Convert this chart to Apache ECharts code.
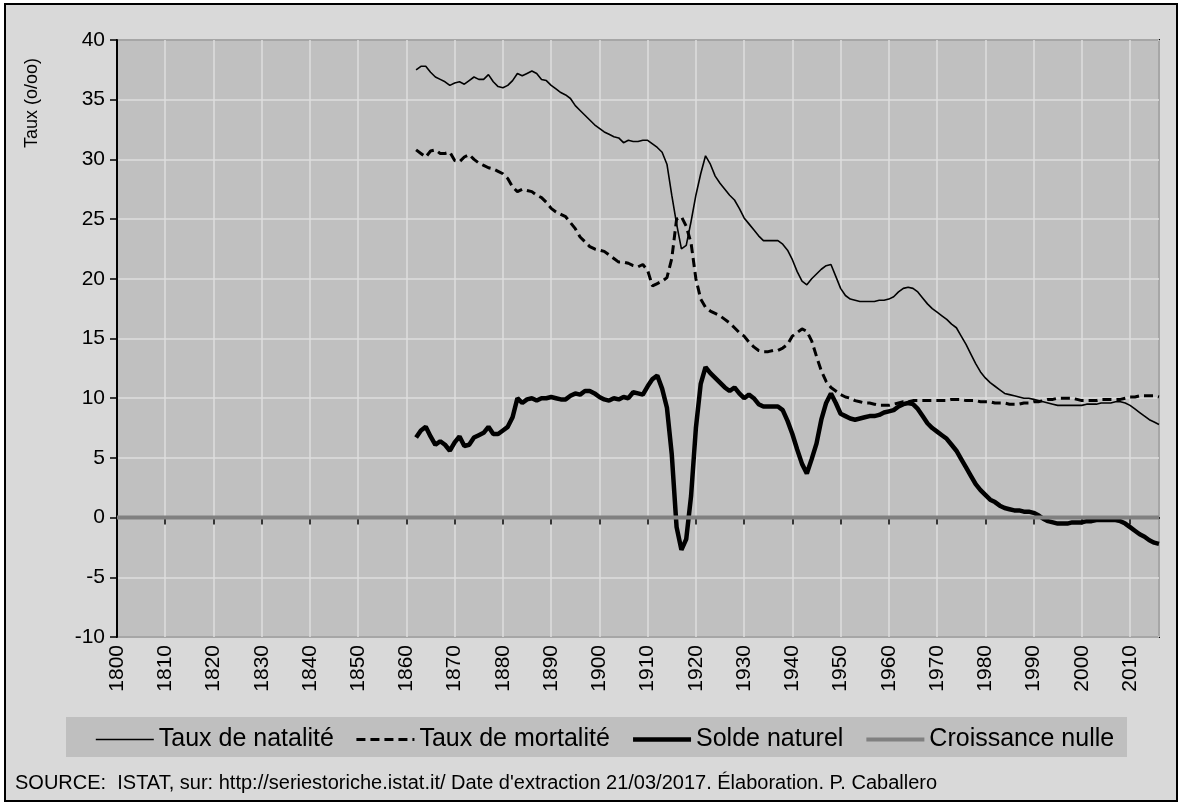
<!DOCTYPE html>
<html>
<head>
<meta charset="utf-8">
<title>Taux de natalité, mortalité et solde naturel</title>
<script src="https://cdn.jsdelivr.net/npm/echarts@6/dist/echarts.min.js"></script>
<style>
  body { margin: 0; background: #fff; }
  #main { width: 1181px; height: 803px; }
</style>
</head>
<body>
<div id="main"></div>
<script>
// données (‰), une valeur par année à partir de 1862
const firstYear = 1862

const natalite = [
  37.5, 37.8, 37.8, 37.3, 36.9, 36.7, 36.5, 36.2,
  36.4, 36.5, 36.3, 36.6, 36.9, 36.7, 36.7, 37.1, 36.5, 36.1,
  36.0, 36.2, 36.6, 37.2, 37.0, 37.2, 37.4, 37.2, 36.7, 36.6,
  36.2, 35.9, 35.6, 35.4, 35.1, 34.5, 34.1, 33.7, 33.3, 32.9,
  32.6, 32.3, 32.1, 31.9, 31.8, 31.4, 31.6, 31.5, 31.5, 31.6,
  31.6, 31.3, 31.0, 30.6, 29.6, 27.0, 24.6, 22.5, 22.8, 24.8,
  27.0, 28.8, 30.3, 29.6, 28.6, 28.0, 27.5, 27.0, 26.6, 25.9,
  25.1, 24.6, 24.1, 23.6, 23.2, 23.2, 23.2, 23.2, 22.9, 22.4,
  21.6, 20.6, 19.8, 19.5, 20.0, 20.4, 20.8, 21.1, 21.2, 20.2,
  19.2, 18.6, 18.3, 18.2, 18.1, 18.1, 18.1, 18.1, 18.2, 18.2,
  18.3, 18.5, 18.9, 19.2, 19.3, 19.2, 18.9, 18.4, 17.9, 17.5,
  17.2, 16.9, 16.6, 16.2, 15.9, 15.2, 14.5, 13.7, 12.9, 12.2,
  11.7, 11.3, 11.0, 10.7, 10.4, 10.3, 10.2, 10.1, 10.0, 10.0,
  9.9, 9.8, 9.7, 9.6, 9.5, 9.4, 9.4, 9.4, 9.4, 9.4,
  9.4, 9.5, 9.5, 9.5, 9.6, 9.6, 9.6, 9.7, 9.7, 9.6,
  9.4, 9.1, 8.8, 8.5, 8.2, 8.0, 7.8
]

const mortalite = [
  30.8, 30.5, 30.2, 30.7, 30.8, 30.5, 30.5, 30.6,
  29.9, 29.8, 30.2, 30.4, 30.0, 29.7, 29.5, 29.3, 29.2, 29.0,
  28.8, 28.4, 27.7, 27.3, 27.5, 27.4, 27.3, 27.0, 26.8, 26.4,
  25.9, 25.6, 25.4, 25.2, 24.7, 24.2, 23.5, 23.1, 22.7, 22.5,
  22.4, 22.3, 22.0, 21.7, 21.4, 21.4, 21.3, 21.1, 21.0, 21.2,
  20.7, 19.4, 19.6, 19.8, 20.1, 21.7, 25.0, 25.2, 24.4, 23.0,
  20.0, 18.3, 17.6, 17.3, 17.1, 16.9, 16.6, 16.3, 15.9, 15.5,
  15.2, 14.7, 14.3, 14.0, 13.9, 13.9, 14.0, 14.0, 14.2, 14.5,
  15.2, 15.5, 15.8, 15.6, 14.8, 13.5, 12.3, 11.4, 10.9, 10.6,
  10.3, 10.1, 10.0, 9.8, 9.7, 9.6, 9.6, 9.5, 9.4, 9.4,
  9.4, 9.5, 9.6, 9.7, 9.7, 9.8, 9.8, 9.8, 9.8, 9.8,
  9.8, 9.8, 9.8, 9.9, 9.9, 9.9, 9.8, 9.8, 9.8, 9.7,
  9.7, 9.7, 9.6, 9.6, 9.6, 9.5, 9.5, 9.5, 9.6, 9.6,
  9.7, 9.7, 9.8, 9.9, 9.9, 10.0, 10.0, 10.0, 10.0, 9.9,
  9.8, 9.8, 9.8, 9.8, 9.9, 9.9, 9.9, 9.9, 9.9, 10.0,
  10.1, 10.1, 10.2, 10.2, 10.2, 10.2, 10.1
]

const soldeNaturel = [
  6.7, 7.3, 7.6, 6.8, 6.1, 6.4, 6.1, 5.6,
  6.3, 6.8, 6.0, 6.1, 6.7, 6.9, 7.1, 7.6, 7.0, 7.0,
  7.3, 7.6, 8.4, 10.0, 9.6, 9.9, 10.0, 9.8, 10.0, 10.0,
  10.1, 10.0, 9.9, 9.9, 10.2, 10.4, 10.3, 10.6, 10.6, 10.4,
  10.1, 9.9, 9.8, 10.0, 9.9, 10.1, 10.0, 10.5, 10.4, 10.3,
  11.0, 11.6, 11.9, 10.8, 9.2, 5.3, -0.8, -2.7, -1.8, 1.8,
  7.5, 11.2, 12.6, 12.1, 11.7, 11.3, 10.9, 10.6, 10.9, 10.4,
  10.0, 10.3, 10.0, 9.5, 9.3, 9.3, 9.3, 9.3, 9.0, 8.1,
  7.0, 5.7, 4.5, 3.7, 4.9, 6.2, 8.2, 9.6, 10.4, 9.6,
  8.7, 8.5, 8.3, 8.2, 8.3, 8.4, 8.5, 8.5, 8.6, 8.8,
  8.9, 9.0, 9.3, 9.5, 9.6, 9.5, 9.1, 8.5, 7.9, 7.5,
  7.2, 6.9, 6.6, 6.1, 5.6, 4.9, 4.2, 3.5, 2.8, 2.3,
  1.9, 1.5, 1.3, 1.0, 0.8, 0.7, 0.6, 0.6, 0.5, 0.5,
  0.4, 0.2, -0.1, -0.3, -0.4, -0.5, -0.5, -0.5, -0.4, -0.4,
  -0.4, -0.3, -0.3, -0.2, -0.2, -0.2, -0.2, -0.2, -0.3, -0.5,
  -0.8, -1.1, -1.4, -1.6, -1.9, -2.1, -2.2
]

// ligne de croissance nulle sur toute l'étendue de l'axe
const zeroYears = [1800, 2016]
const zeroValues = [0, 0]

const years = natalite.map((v, i) => firstYear + i)
const pairs = (xs, ys) => ys.map((v, i) => [xs[i], v])

const FONT = "'Liberation Sans', Arial, sans-serif"

const styleNat = { color: '#000', width: 1.6 }
const styleMort = { color: '#000', width: 3, type: [9, 5] }
const styleSolde = { color: '#000', width: 4.5 }
const styleNulle = { color: '#808080', width: 4 }

const chart = echarts.init(document.getElementById('main'))

chart.setOption({
  animation: false,
  backgroundColor: '#fff',
  textStyle: { fontFamily: FONT, color: '#000' },
  graphic: {
    elements: [
      { // cadre extérieur
        type: 'rect', z: -100, silent: true,
        shape: { x: 5, y: 4, width: 1172, height: 797 },
        style: { fill: '#d9d9d9', stroke: '#000', lineWidth: 2 }
      },
      { // fond de la légende
        type: 'rect', z: -90, silent: true,
        shape: { x: 66, y: 717, width: 1061, height: 40 },
        style: { fill: '#bfbfbf' }
      },
      {
        type: 'text', x: 32, y: 103, rotation: Math.PI / 2,
        style: {
          text: 'Taux (o/oo)', fontSize: 18, fontFamily: FONT, fill: '#000',
          textAlign: 'center', textVerticalAlign: 'middle'
        }
      },
      {
        type: 'text', x: 15, y: 783,
        style: {
          text: "SOURCE:  ISTAT, sur: http://seriestoriche.istat.it/ Date d'extraction 21/03/2017. Élaboration. P. Caballero",
          fontSize: 20, fontFamily: FONT, fill: '#000',
          textAlign: 'left', textVerticalAlign: 'middle'
        }
      }
    ]
  },
  grid: {
    left: 117,
    right: 22,
    top: 40,
    bottom: 166,
    show: true,
    backgroundColor: '#c0c0c0',
    borderColor: '#000',
    borderWidth: 2
  },
  legend: {
    left: 95,
    top: 727,
    padding: 0,
    itemWidth: 58,
    itemHeight: 14,
    itemGap: 21,
    itemStyle: { opacity: 0 },
    textStyle: { fontSize: 25, fontFamily: FONT, color: '#000' },
    data: [
      { name: 'Taux de natalité', lineStyle: styleNat },
      { name: 'Taux de mortalité', lineStyle: styleMort },
      { name: 'Solde naturel', lineStyle: styleSolde },
      { name: 'Croissance nulle', lineStyle: styleNulle }
    ]
  },
  xAxis: {
    type: 'value',
    min: 1800,
    max: 2016,
    interval: 10,
    axisLine: { show: true, lineStyle: { color: '#000', width: 2 } },
    axisTick: { show: true, length: 7, lineStyle: { color: '#000', width: 1.5 } },
    axisLabel: {
      rotate: 90,
      fontSize: 21,
      color: '#000',
      margin: 8,
      showMaxLabel: false,
      formatter: v => (v % 10 === 0 ? String(v) : '')
    },
    splitLine: { show: true, lineStyle: { color: '#dedede', width: 1.5 } }
  },
  yAxis: {
    type: 'value',
    min: -10,
    max: 40,
    interval: 5,
    axisLine: { show: true, lineStyle: { color: '#000', width: 2 } },
    axisTick: { show: true, length: 7, lineStyle: { color: '#000', width: 1.5 } },
    axisLabel: { fontSize: 21, color: '#000', margin: 12 },
    splitLine: { show: true, lineStyle: { color: '#dedede', width: 1.5 } }
  },
  series: [
    {
      name: 'Taux de natalité',
      type: 'line',
      symbol: 'none',
      data: pairs(years, natalite),
      lineStyle: styleNat,
      itemStyle: { color: '#000' },
      z: 3
    },
    {
      name: 'Taux de mortalité',
      type: 'line',
      symbol: 'none',
      data: pairs(years, mortalite),
      lineStyle: styleMort,
      itemStyle: { color: '#000' },
      z: 3
    },
    {
      name: 'Solde naturel',
      type: 'line',
      symbol: 'none',
      data: pairs(years, soldeNaturel),
      lineStyle: styleSolde,
      itemStyle: { color: '#000' },
      z: 3
    },
    {
      name: 'Croissance nulle',
      type: 'line',
      symbol: 'none',
      data: pairs(zeroYears, zeroValues),
      lineStyle: styleNulle,
      itemStyle: { color: '#808080' },
      z: 4
    }
  ]
})
</script>
</body>
</html>
